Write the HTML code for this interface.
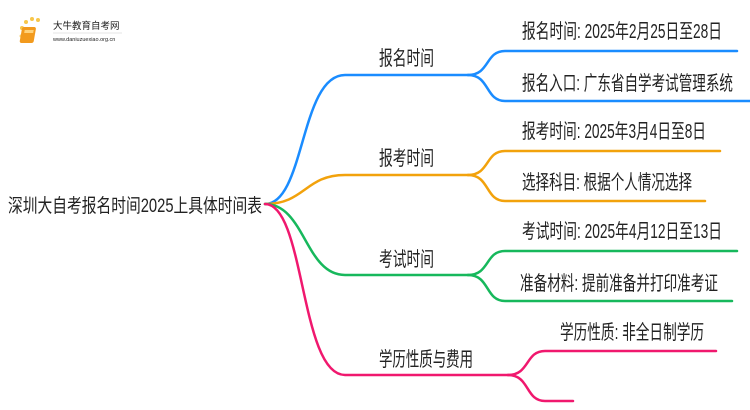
<!DOCTYPE html>
<html><head><meta charset="utf-8"><style>
html,body{margin:0;padding:0;background:#fff;width:750px;height:410px;overflow:hidden}
text{font-family:"Liberation Sans","Noto Sans CJK SC",sans-serif;fill:#222}
</style></head><body>
<svg width="750" height="410" viewBox="0 0 750 410" xmlns="http://www.w3.org/2000/svg">
<g>
<circle cx="22" cy="28" r="2" fill="#f7c64a"/><circle cx="26" cy="22" r="2" fill="#f7c64a"/><circle cx="32" cy="19" r="2" fill="#f7c64a"/><circle cx="38" cy="20" r="2" fill="#f7c64a"/><circle cx="21" cy="36" r="1.5" fill="#f7d67a"/>
<rect x="27" y="27" width="14" height="16" rx="2" fill="#f29a1d" transform="skewX(-10)"/>
<rect x="30" y="30" width="9" height="3" fill="#ffd27a" transform="skewX(-10)"/>
<text x="53" y="29" font-size="9.5" fill="#333">大牛教育自考网</text>
<line x1="53" y1="33" x2="122" y2="33" stroke="#ccc" stroke-width="0.5"/>
<text x="53" y="41" font-size="5.5" fill="#666">www.daniuzuexiao.org.cn</text>
</g>
<g fill="none" stroke-width="2.5" stroke-linecap="round">
<path d="M265,204 C305,204 300,75 345,75 L468,75" stroke="#1a8cff"/>
<path d="M468,75 C490,75 485,51 505,51 L737,51" stroke="#1a8cff"/>
<path d="M468,75 C490,75 485,101 505,101 L752,101" stroke="#1a8cff"/>
<path d="M265,204 C305,204 305,175 345,175 L468,175" stroke="#f2a20c"/>
<path d="M468,175 C490,175 485,151 505,151 L720,151" stroke="#f2a20c"/>
<path d="M468,175 C490,175 485,201 505,201 L705,201" stroke="#f2a20c"/>
<path d="M265,204 C305,204 305,275 345,275 L468,275" stroke="#17b85c"/>
<path d="M468,275 C490,275 485,251 505,251 L737,251" stroke="#17b85c"/>
<path d="M468,275 C490,275 485,301 505,301 L732,301" stroke="#17b85c"/>
<path d="M265,204 C305,204 300,375 345,375 L508,375" stroke="#f0186e"/>
<path d="M508,375 C530,375 525,351 545,351 L716,351" stroke="#f0186e"/>
<path d="M508,375 C530,375 525,401 545,401 L573,401" stroke="#f0186e"/>
</g>
<text x="8" y="212" font-size="19" textLength="254" lengthAdjust="spacingAndGlyphs">深圳大自考报名时间2025上具体时间表</text>
<text x="379" y="65" font-size="20" textLength="55" lengthAdjust="spacingAndGlyphs">报名时间</text>
<text x="379" y="165" font-size="20" textLength="55" lengthAdjust="spacingAndGlyphs">报考时间</text>
<text x="379" y="266" font-size="20" textLength="55" lengthAdjust="spacingAndGlyphs">考试时间</text>
<text x="379" y="366" font-size="20" textLength="94" lengthAdjust="spacingAndGlyphs">学历性质与费用</text>
<text x="522" y="38" font-size="20" textLength="200" lengthAdjust="spacingAndGlyphs">报名时间: 2025年2月25日至28日</text>
<text x="522" y="90" font-size="20" textLength="211" lengthAdjust="spacingAndGlyphs">报名入口: 广东省自学考试管理系统</text>
<text x="522" y="138" font-size="20" textLength="184" lengthAdjust="spacingAndGlyphs">报考时间: 2025年3月4日至8日</text>
<text x="522" y="189" font-size="20" textLength="170" lengthAdjust="spacingAndGlyphs">选择科目: 根据个人情况选择</text>
<text x="522" y="238" font-size="20" textLength="200" lengthAdjust="spacingAndGlyphs">考试时间: 2025年4月12日至13日</text>
<text x="520" y="290" font-size="20" textLength="198" lengthAdjust="spacingAndGlyphs">准备材料: 提前准备并打印准考证</text>
<text x="560" y="339" font-size="20" textLength="144" lengthAdjust="spacingAndGlyphs">学历性质: 非全日制学历</text>
</svg>
</body></html>
